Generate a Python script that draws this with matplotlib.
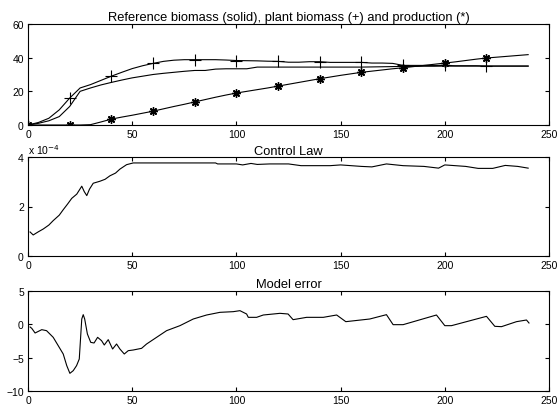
import numpy as np
import matplotlib.pyplot as plt
from matplotlib.ticker import FuncFormatter

plt.rcParams['font.family'] = ['Liberation Sans', 'DejaVu Sans']

# top panel: sampled every 5 time units
t_top = np.arange(0, 245, 5)
reference = [0, 1, 2.5, 5, 11, 20, 22, 23.8, 25.3, 26.7, 28, 29, 30, 30.7, 31.3, 31.9,
             32.4, 32.4, 33.2, 33.4, 33.4, 33.4, 34.4, 34.4, 34.4, 34.4, 34.4, 34.4, 34.4,
             34.4, 34.4, 34.4, 34.4, 34.5, 34.6, 34.7, 34.8, 34.8, 34.9, 34.9, 35, 35,
             35, 35, 35, 35, 35, 35, 35]
plant = [0, 1.5, 4, 9, 16, 22, 24, 26.5, 29, 31.3, 33.5, 35.2, 36.6, 37.8, 38.5, 38.8,
         38.8, 38.8, 38.8, 38.6, 38.3, 38.2, 38.1, 37.9, 37.8, 37.3, 37.3, 37.6, 37.6,
         37.2, 37.2, 37.2, 37.2, 36.8, 36.8, 36.6, 35.4, 35.4, 35.4, 35.4, 35.4, 35.2,
         35.2, 35.2, 35, 35, 35, 35, 35]
production = [0, 0, 0, 0, 0, 0, 0.2, 1.8, 3.5, 4.7, 5.8, 7, 8.2, 9.6, 11, 12.3, 13.7, 15.1,
              16.5, 17.8, 19, 20, 21, 22, 23.1, 24.2, 25.3, 26.4, 27.5, 28.5, 29.5, 30.4,
              31.3, 32, 32.7, 33.4, 34, 34.7, 35.4, 36.1, 36.8, 37.5, 38.3, 39.1, 39.8,
              40.3, 40.8, 41.3, 41.8]
marker_idx = list(range(0, 45, 4))

# middle panel
t_ctrl = [1, 2.5, 5, 7.3, 10, 12.1, 15, 16.9, 19, 21, 23.4, 25.8, 27, 28.2, 29.5, 31.3,
          34.5, 37, 39.3, 42, 44.1, 47.3, 50.5, 60, 80, 90, 91, 100, 103, 107, 110, 116,
          125, 131, 145, 150, 160, 165, 172, 180, 190, 197, 200, 210, 216, 223, 229,
          235, 240]
control = np.array([0.97, 0.85, 0.98, 1.09, 1.25, 1.43, 1.65, 1.87, 2.1, 2.33, 2.5, 2.82,
                    2.6, 2.44, 2.7, 2.94, 3.02, 3.1, 3.24, 3.35, 3.51, 3.69, 3.76, 3.76,
                    3.76, 3.76, 3.72, 3.72, 3.68, 3.74, 3.7, 3.72, 3.72, 3.65, 3.65, 3.68,
                    3.62, 3.6, 3.72, 3.65, 3.62, 3.55, 3.68, 3.62, 3.54, 3.54, 3.66,
                    3.62, 3.55]) * 1e-4

# bottom panel
t_err = [1, 1.8, 3.4, 6.6, 8.9, 12.1, 14.5, 16.9, 18.6, 20.1, 21.7, 23.3, 24.6, 25.8,
         26.5, 27.2, 28.5, 30.1, 31.7, 33.4, 35.3, 36.6, 38.5, 40.6, 42.5, 44.1, 46.2,
         48.1, 50.5, 54.5, 56.9, 61.7, 66.5, 72.9, 79.3, 85.7, 92.1, 98.5, 101.7, 104.9,
         105.7, 109.7, 112.9, 120.9, 124.8, 127.2, 133.7, 141.7, 148.1, 152.5, 164, 172,
         175.2, 180, 196, 200, 203.2, 220, 224, 227.2, 234.4, 239.2, 240.4]
model_error = [-0.4, -0.6, -1.3, -0.8, -0.95, -1.95, -3.2, -4.45, -6.2, -7.35, -6.95, -6.2,
               -5.2, 0.8, 1.45, 0.8, -1.45, -2.7, -2.8, -1.95, -2.45, -3.1, -2.3, -3.7,
               -2.95, -3.7, -4.45, -3.95, -3.85, -3.6, -2.95, -1.95, -0.95, -0.2, 0.8, 1.4,
               1.8, 1.9, 2.05, 1.55, 1.05, 1.05, 1.4, 1.65, 1.55, 0.7, 1.05, 1.05, 1.4, 0.4,
               0.8, 1.45, -0.05, -0.05, 1.4, -0.2, -0.2, 1.2, -0.3, -0.35, 0.4, 0.65, 0.2]

fig = plt.figure(figsize=(5.57, 4.14), dpi=100)
left, width = 28 / 557, 521 / 557
ax1 = fig.add_axes([left, 1 - 126 / 414, width, 101 / 414])
ax2 = fig.add_axes([left, 1 - 257 / 414, width, 99 / 414])
ax3 = fig.add_axes([left, 1 - 392 / 414, width, 100 / 414])

lw = 0.8
title_fs = 9.3
ax1.plot(t_top, reference, color='black', lw=lw)
ax1.plot(t_top, plant, color='black', lw=lw, marker='+', ms=8, mew=0.8, markevery=marker_idx)
ax1.plot(t_top, production, color='black', lw=lw, marker=(8, 2, 0), ms=6, mew=1.0,
         markevery=marker_idx)
ax1.set_ylim(0, 60)
ax1.set_yticks([0, 20, 40, 60])
ax1.set_title('Reference biomass (solid), plant biomass (+) and production (*)',
              fontsize=title_fs, pad=3)

ax2.plot(t_ctrl, control, color='black', lw=lw)
ax2.set_ylim(0, 4e-4)
ax2.set_yticks([0, 2e-4, 4e-4])
ax2.yaxis.set_major_formatter(FuncFormatter(lambda v, p: f'{v * 1e4:g}'))
ax2.text(0, 1.01, r'x 10$^{-4}$', transform=ax2.transAxes, fontsize=7.5, va='bottom',
         ha='left')
ax2.set_title('Control Law', fontsize=title_fs, pad=2)

ax3.plot(t_err, model_error, color='black', lw=lw)
ax3.set_ylim(-10, 5)
ax3.set_yticks([-10, -5, 0, 5])
ax3.set_title('Model error', fontsize=title_fs, pad=3)

for ax in (ax1, ax2, ax3):
    ax.set_xlim(0, 250)
    ax.set_xticks([0, 50, 100, 150, 200, 250])
    ax.tick_params(direction='in', top=True, right=True, length=3, width=0.8,
                   labelsize=7.5, pad=3)
    for s in ax.spines.values():
        s.set_linewidth(0.8)

fig.savefig('out.png', dpi=100)
